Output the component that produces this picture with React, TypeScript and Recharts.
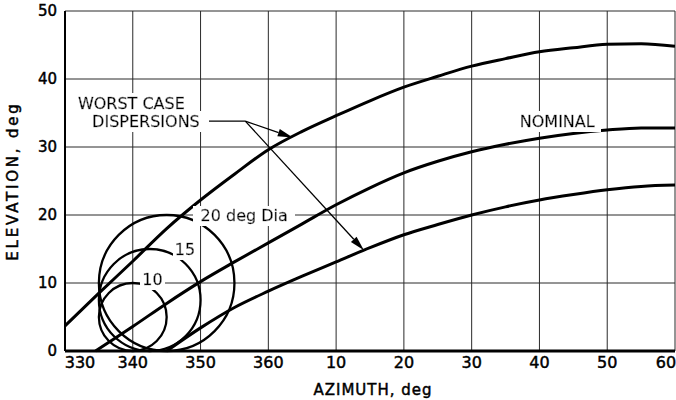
import React from 'react';
import {
  ComposedChart,
  Line,
  XAxis,
  YAxis,
  CartesianGrid,
  ReferenceArea,
  ReferenceLine,
  ReferenceDot,
  Label,
} from 'recharts';

// Azimuth runs on past north: 370 = 10 deg, 420 = 60 deg
const azTicks = [330, 340, 350, 360, 370, 380, 390, 400, 410, 420];
const elTicks = [0, 10, 20, 30, 40, 50];

// upper worst-case dispersion
const upperAz = [330, 335, 340, 345, 350, 355, 360, 365, 370, 375, 380, 385, 390, 395, 400, 405, 410, 415, 420];
const upperEl = [3.7, 8.5, 13.2, 18.0, 22.2, 26.0, 29.6, 32.3, 34.6, 36.8, 38.8, 40.4, 41.9, 43.0, 44.0, 44.6, 45.1, 45.2, 44.8];

// nominal trajectory
const nominalAz = [334.5, 340, 345, 350, 355, 360, 365, 370, 375, 380, 385, 390, 395, 400, 405, 410, 415, 420];
const nominalEl = [0, 3.6, 7.0, 10.2, 13.1, 15.9, 18.7, 21.5, 24.0, 26.2, 27.9, 29.3, 30.4, 31.3, 32.0, 32.5, 32.8, 32.8];

// lower worst-case dispersion
const lowerAz = [345, 350, 355, 360, 365, 370, 375, 380, 385, 390, 395, 400, 405, 410, 415, 420];
const lowerEl = [0, 3.4, 6.4, 8.8, 11.0, 13.1, 15.2, 17.1, 18.6, 20.0, 21.2, 22.2, 23.0, 23.7, 24.2, 24.4];

// dispersion circles: centre and diameter, deg
const circleAz = [340, 342.5, 345];
const circleEl = [5, 7.5, 10];
const circleDia = [10, 15, 20];

const FONT = '"DejaVu Sans", Verdana, sans-serif';
// thin outline so the lettering reads a little heavier
const INK = { fill: '#000', stroke: '#000', strokeWidth: 0.45 };

const toPoints = (az: number[], el: number[]) => az.map((a, i) => ({ az: a, el: el[i] }));

const upper = toPoints(upperAz, upperEl);
const nominal = toPoints(nominalAz, nominalEl);
const lower = toPoints(lowerAz, lowerEl);

// callout text, placed in chart coordinates
const notes = [
  { az: 331.9, el: 36.4, text: 'WORST CASE', anchor: 'start' },
  { az: 334.0, el: 33.75, text: 'DISPERSIONS', anchor: 'start' },
  { az: 397.1, el: 33.75, text: 'NOMINAL', anchor: 'start' },
  { az: 350.0, el: 19.9, text: `${circleDia[2]} deg Dia`, anchor: 'start' },
  { az: 347.7, el: 15.0, text: `${circleDia[1]}`, anchor: 'middle' },
  { az: 342.9, el: 10.5, text: `${circleDia[0]}`, anchor: 'middle' },
];

const leaders = [
  { x1: 351.0, y1: 33.8, x2: 356.6, y2: 33.8, arrow: false },
  { x1: 356.6, y1: 33.8, x2: 363.6, y2: 31.4, arrow: true },
  { x1: 356.6, y1: 33.8, x2: 374.1, y2: 14.8, arrow: true },
];

const fmtAz = (v: number) => (v > 360 ? v - 360 : v);

const AzTick = (props: any) => {
  const { x, y, payload } = props;
  const v = payload.value;
  const shift = v === 330 ? 15 : v === 420 ? -9 : 0;
  return (
    <text x={x + shift} y={y} dy="0.71em" textAnchor="middle" fontSize={16} fontFamily={FONT} {...INK}>
      {fmtAz(v)}
    </text>
  );
};

const Leader = (arrow: boolean) => (props: any) => {
  const { x1, y1, x2, y2 } = props;
  const ang = Math.atan2(y2 - y1, x2 - x1);
  const len = 15;
  const half = 3.8;
  const bx = x2 - len * Math.cos(ang);
  const by = y2 - len * Math.sin(ang);
  const nx = -Math.sin(ang) * half;
  const ny = Math.cos(ang) * half;
  return (
    <g>
      <line x1={x1} y1={y1} x2={arrow ? bx : x2} y2={arrow ? by : y2} stroke="#000" strokeWidth={1.3} />
      {arrow && <polygon points={`${x2},${y2} ${bx + nx},${by + ny} ${bx - nx},${by - ny}`} fill="#000" />}
    </g>
  );
};

const Circle = (props: any) => {
  const { x, y, width, height } = props;
  return (
    <ellipse
      cx={x + width / 2}
      cy={y + height / 2}
      rx={Math.abs(width) / 2}
      ry={Math.abs(height) / 2}
      fill="none"
      stroke="#000"
      strokeWidth={2.3}
    />
  );
};

const Note = (id: string, text: string, anchor: string) => (props: any) => {
  const { cx, cy } = props;
  return (
    <g>
      <defs>
        <filter id={id} x="-0.08" y="-0.02" width="1.16" height="1.04">
          <feFlood floodColor="#fff" result="bg" />
          <feMerge>
            <feMergeNode in="bg" />
            <feMergeNode in="SourceGraphic" />
          </feMerge>
        </filter>
      </defs>
      <text
        x={cx}
        y={cy}
        dy="0.36em"
        textAnchor={anchor as any}
        fontSize={16}
        fontFamily={FONT}
        {...INK}
        filter={`url(#${id})`}
      >
        {text}
      </text>
    </g>
  );
};

export default function App() {
  return (
    <div style={{ position: 'absolute', left: 0, top: 0, width: 676, height: 400, background: '#fff' }}>
      <ComposedChart width={676} height={400} margin={{ top: 11, right: 1, bottom: 0, left: 0 }}>
        <CartesianGrid stroke="#2a2a2a" strokeWidth={1} />
        <XAxis
          type="number"
          dataKey="az"
          domain={[330, 420]}
          ticks={azTicks}
          interval={0}
          allowDataOverflow
          height={49}
          tickLine={false}
          tickMargin={0}
          axisLine={{ stroke: '#000', strokeWidth: 3 }}
          tick={<AzTick />}
        >
          <Label
            content={(p: any) => {
              const vb = p.viewBox || { x: 65, y: 351, width: 610, height: 49 };
              return (
                <text
                  x={vb.x + vb.width / 2 + 3}
                  y={vb.y + vb.height - 5}
                  textAnchor="middle"
                  fontSize={15}
                  letterSpacing={1}
                  fontFamily={FONT}
                  {...INK}
                >
                  AZIMUTH, deg
                </text>
              );
            }}
          />
        </XAxis>
        <YAxis
          type="number"
          domain={[0, 50]}
          ticks={elTicks}
          interval={0}
          width={65}
          tickLine={false}
          axisLine={{ stroke: '#000', strokeWidth: 2 }}
          tick={{ fontSize: 15, fontFamily: FONT, ...INK }}
        >
          <Label
            content={(p: any) => {
              const vb = p.viewBox || { x: 0, y: 11, width: 65, height: 340 };
              const cx = vb.x + 13;
              const cy = vb.y + vb.height / 2;
              return (
                <text
                  x={cx}
                  y={cy}
                  dy="0.36em"
                  textAnchor="middle"
                  transform={`rotate(-90, ${cx}, ${cy})`}
                  fontSize={15}
                  letterSpacing={2.8}
                  fontFamily={FONT}
                  {...INK}
                >
                  ELEVATION, deg
                </text>
              );
            }}
          />
        </YAxis>

        {circleDia.map((d, i) => (
          <ReferenceArea
            key={`c${d}`}
            x1={circleAz[i] - d / 2}
            x2={circleAz[i] + d / 2}
            y1={circleEl[i] - d / 2}
            y2={circleEl[i] + d / 2}
            shape={Circle}
          />
        ))}

        <Line data={upper} dataKey="el" type="monotone" stroke="#000" strokeWidth={3} dot={false} isAnimationActive={false} />
        <Line data={nominal} dataKey="el" type="monotone" stroke="#000" strokeWidth={3} dot={false} isAnimationActive={false} />
        <Line data={lower} dataKey="el" type="monotone" stroke="#000" strokeWidth={3} dot={false} isAnimationActive={false} />

        {leaders.map((l, i) => (
          <ReferenceLine
            key={`l${i}`}
            segment={[
              { x: l.x1, y: l.y1 },
              { x: l.x2, y: l.y2 },
            ]}
            shape={Leader(l.arrow)}
          />
        ))}

        {notes.map((n, i) => (
          <ReferenceDot key={`n${i}`} x={n.az} y={n.el} shape={Note(`notebg${i}`, n.text, n.anchor)} />
        ))}
      </ComposedChart>
    </div>
  );
}
